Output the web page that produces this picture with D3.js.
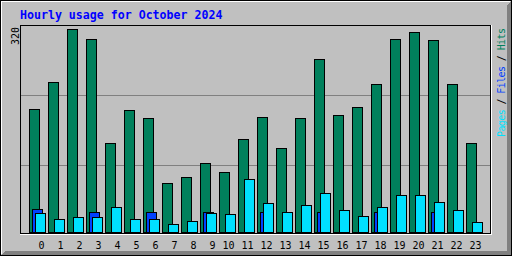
<!DOCTYPE html>
<html lang="en">
<head>
<meta charset="UTF-8">
<title>Hourly usage for October 2024</title>
<script src="https://cdn.jsdelivr.net/npm/d3@7"></script>
<style>
    body { margin: 0; background: #c0c0c0; }
    svg { display: block; }
    text { font-family: "DejaVu Sans Mono", monospace; }
</style>
</head>
<body>
<div id="chart"></div>
<script>
    const hourLabels = ["0","1","2","3","4","5","6","7","8","9","10","11","12","13","14","15","16","17","18","19","20","21","22","23"];
    const hits  = [194, 237, 320, 304, 141, 193, 180, 77, 86, 108, 94, 146, 182, 133, 180, 273, 185, 197, 234, 304, 315, 303, 234, 141];
    const files = [37, 0, 0, 32, 0, 0, 32, 0, 0, 32, 0, 0, 32, 0, 0, 32, 0, 0, 32, 0, 0, 32, 0, 0];
    const pages = [30, 21, 23, 23, 40, 21, 21, 12, 18, 30, 28, 84, 45, 32, 43, 62, 34, 26, 40, 58, 59, 48, 34, 15];
    const maxLabel = "320";
    const title = "Hourly usage for October 2024";

    const W = 512, H = 256;
    const colors = { hits: "#00805c", files: "#0040ff", pages: "#00e0ff" };

    const svg = d3.select("#chart").append("svg")
        .attr("width", W).attr("height", H)
        .attr("shape-rendering", "crispEdges");

    // outer frame with 3d shadow
    svg.append("rect").attr("width", W).attr("height", H).attr("fill", "#000");
    svg.append("rect").attr("x", 1).attr("y", 1).attr("width", W - 2).attr("height", H - 2).attr("fill", "#c0c0c0");
    svg.append("line").attr("x1", 1).attr("y1", 1.5).attr("x2", W - 2).attr("y2", 1.5).attr("stroke", "#fff");
    svg.append("line").attr("x1", 1.5).attr("y1", 1).attr("x2", 1.5).attr("y2", H - 2).attr("stroke", "#fff");
    for (let i = 0; i < 4; i++) {
        svg.append("line")
            .attr("x1", W - 1.5 - i).attr("y1", 2 + i).attr("x2", W - 1.5 - i).attr("y2", H - 1)
            .attr("stroke", "#808080");
        svg.append("line")
            .attr("x1", 2 + i).attr("y1", H - 1.5 - i).attr("x2", W - 1).attr("y2", H - 1.5 - i)
            .attr("stroke", "#808080");
    }

    // title
    svg.append("text")
        .attr("x", 20).attr("y", 19)
        .attr("fill", "#0000ff")
        .attr("font-weight", "bold")
        .attr("font-size", "11.6px")
        .text(title);

    // plot box
    const plot = { left: 20, top: 25, right: 490, bottom: 233 };
    svg.append("line").attr("x1", plot.left).attr("y1", plot.bottom + 1.5).attr("x2", plot.right + 2).attr("y2", plot.bottom + 1.5).attr("stroke", "#fff");
    svg.append("line").attr("x1", plot.right + 1.5).attr("y1", plot.top).attr("x2", plot.right + 1.5).attr("y2", plot.bottom + 2).attr("stroke", "#fff");
    svg.append("rect")
        .attr("x", plot.left + 0.5).attr("y", plot.top + 0.5)
        .attr("width", plot.right - plot.left).attr("height", plot.bottom - plot.top)
        .attr("fill", "none").attr("stroke", "#000");

    // grid at thirds of the box
    const grid = d3.scaleLinear().domain([0, 1]).range([235, 25]);
    svg.selectAll(".grid")
        .data([1 / 3, 2 / 3])
        .join("line")
        .attr("x1", plot.left + 1).attr("x2", plot.right)
        .attr("y1", d => Math.round(grid(d)) + 0.5)
        .attr("y2", d => Math.round(grid(d)) + 0.5)
        .attr("stroke", "#808080");

    const x = d3.scaleBand().domain(hourLabels).range([29, 485]);
    const y = d3.scaleLinear().domain([0, 320]).range([232, 29]);

    function drawBars(values, offset, color) {
        svg.append("g").selectAll("rect")
            .data(values.map((v, i) => ({ h: hourLabels[i], v })).filter(d => d.v > 0))
            .join("rect")
            .attr("x", d => x(d.h) + offset + 0.5)
            .attr("y", d => Math.round(y(d.v)) + 0.5)
            .attr("width", 10)
            .attr("height", d => 232 - Math.round(y(d.v)))
            .attr("fill", color)
            .attr("stroke", "#000");
    }
    drawBars(hits, 0, colors.hits);
    drawBars(files, 3, colors.files);
    drawBars(pages, 6, colors.pages);

    // hour labels
    svg.selectAll(".hour")
        .data(hourLabels)
        .join("text")
        .attr("x", d => x(d) + 15.5)
        .attr("y", 249)
        .attr("text-anchor", "end")
        .attr("font-size", "10px")
        .attr("fill", "#000")
        .text(d => d);

    // max value label
    svg.append("text")
        .attr("transform", "translate(19,27) rotate(-90)")
        .attr("text-anchor", "end")
        .attr("font-size", "10px")
        .attr("fill", "#000")
        .text(maxLabel);

    // legend up the right side
    const legend = svg.append("text")
        .attr("transform", "translate(505,137) rotate(-90)")
        .attr("font-size", "10px")
        .attr("textLength", 109)
        .attr("lengthAdjust", "spacing");
    [["Pages", colors.pages], [" / ", "#000"], ["Files", colors.files], [" / ", "#000"], ["Hits", colors.hits]]
        .forEach(([t, c]) => legend.append("tspan").attr("fill", c).text(t));
</script>
</body>
</html>
